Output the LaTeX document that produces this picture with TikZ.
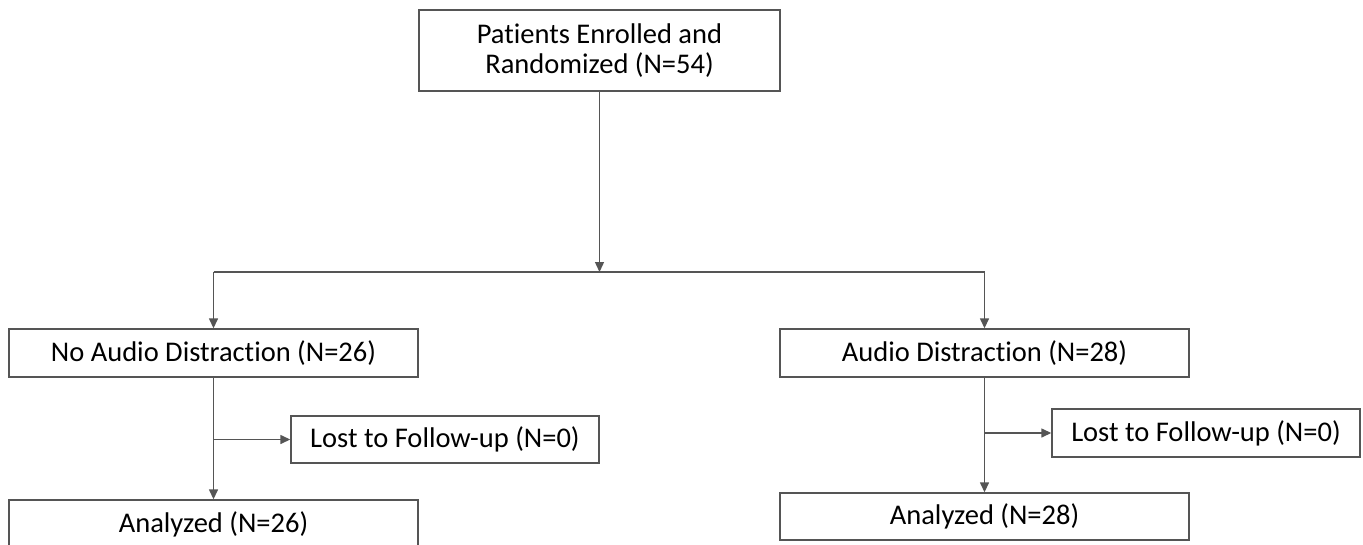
\documentclass[tikz,border=0pt]{standalone}
\usepackage{fontspec}
\setmainfont{Carlito}[Ligatures=NoCommon, RawFeature=-liga]
\usetikzlibrary{arrows.meta}
\begin{document}
\begin{tikzpicture}[x=1pt,y=-1pt,
  box/.style={draw=linegray, line width=1.4pt, inner sep=0pt, align=center,
    text=black, font=\fontsize{28.5}{30}\selectfont},
  conn/.style={draw=linegray, line width=1.4pt},
  arr/.style={conn, -{Triangle[length=10pt,width=9pt]}}]
\definecolor{linegray}{HTML}{555555}
\useasboundingbox[fill=white] (0,0) rectangle (1363,544);
\node[box, minimum width=361pt, minimum height=81pt] (top) at (599.5,50.5)
  {Patients Enrolled and\\Randomized (N=54)};
\node[box, minimum width=409pt, minimum height=48pt] (left) at (213.5,353) {No Audio Distraction (N=26)};
\node[box, minimum width=409pt, minimum height=48pt] (right) at (984.5,353) {Audio Distraction (N=28)};
\node[box, minimum width=308pt, minimum height=47pt] (lostL) at (445,439.5) {Lost to Follow-up (N=0)};
\node[box, minimum width=308pt, minimum height=48pt] (lostR) at (1206,433) {Lost to Follow-up (N=0)};
\node[box, minimum width=409pt, minimum height=48pt] (anL) at (213.5,524) {Analyzed (N=26)};
\node[box, minimum width=409pt, minimum height=47pt] (anR) at (984.5,516.5) {Analyzed (N=28)};
\coordinate (split) at (599.5,272);
\coordinate (splitL) at (213.5,272);
\coordinate (splitR) at (984.5,272);
\draw[arr] (top.south) -- (split);
\draw[conn] (splitL) -- (splitR);
\draw[arr] (splitL) -- (left.north);
\draw[arr] (splitR) -- (right.north);
\draw[arr] (left.south) -- (anL.north);
\draw[arr] (right.south) -- (anR.north);
\draw[arr] (left.south |- lostL.west) -- (lostL.west);
\draw[arr] (right.south |- lostR.west) -- (lostR.west);
\end{tikzpicture}
\end{document}
